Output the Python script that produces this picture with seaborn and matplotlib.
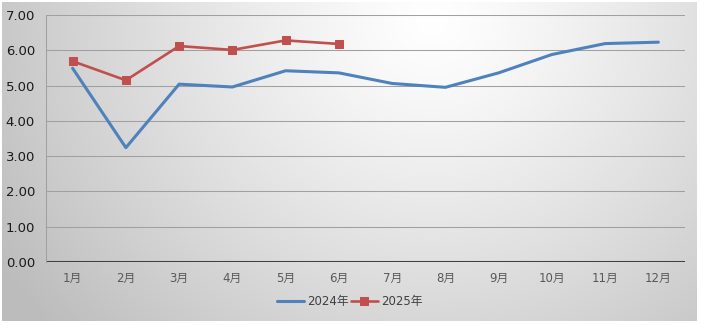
import numpy as np
import pandas as pd
import matplotlib
matplotlib.use("Agg")
import matplotlib.pyplot as plt
import seaborn as sns

months = ["1月", "2月", "3月", "4月", "5月", "6月", "7月", "8月", "9月", "10月", "11月", "12月"]
values_2024 = [5.49, 3.24, 5.04, 4.96, 5.42, 5.36, 5.06, 4.95, 5.36, 5.88, 6.19, 6.23]
values_2025 = [5.69, 5.15, 6.12, 6.01, 6.28, 6.18]
yticks = [0, 1, 2, 3, 4, 5, 6, 7]

sns.set_theme(style="white")
plt.rcParams["font.family"] = ["DejaVu Sans", "Noto Sans CJK SC"]

W, H = 701, 325
fig = plt.figure(figsize=(W / 100, H / 100), dpi=100)
fig.patch.set_facecolor("white")

# radial grey-to-white background of the chart area
bg = fig.add_axes([2 / W, 1 - 321 / H, 695 / W, 319 / H])
bg.set_axis_off()
yy, xx = np.mgrid[0:319, 0:695]
d = np.sqrt(((xx - 430) / 440.0) ** 2 + ((yy - 20) / 400.0) ** 2)
shade = 1.0 - 0.22 * np.clip(d, 0, 1.15) ** 1.2
bg.imshow(np.dstack([shade] * 3), aspect="auto", interpolation="bilinear", vmin=0, vmax=1)

ax = fig.add_axes([46 / W, 1 - 262 / H, 639 / W, 247 / H])
ax.patch.set_alpha(0)

df24 = pd.DataFrame({"x": np.arange(len(values_2024)), "y": values_2024})
df25 = pd.DataFrame({"x": np.arange(len(values_2025)), "y": values_2025})
sns.lineplot(data=df24, x="x", y="y", ax=ax, color="#4f81bd", linewidth=2.2,
             label="2024年", zorder=3)
sns.lineplot(data=df25, x="x", y="y", ax=ax, color="#c0504d", linewidth=1.9,
             marker="s", markersize=5.5, markeredgecolor="#c0504d",
             label="2025年", zorder=4)

ax.set_xlim(-0.5, 11.5)
ax.set_ylim(0, 7)
ax.set_yticks(yticks)
ax.set_yticklabels([f"{v:.2f}" for v in yticks], fontsize=9.5, color="#1a1a1a")
ax.set_xticks(range(len(months)))
ax.set_xticklabels(months, fontsize=8.5, color="#595959")
ax.tick_params(axis="both", length=0)
ax.tick_params(axis="y", pad=8)
ax.tick_params(axis="x", pad=7)
ax.set_xlabel("")
ax.set_ylabel("")

for v in yticks[1:]:
    ax.axhline(v, color="#a0a0a0", linewidth=0.75, zorder=1)
ax.axhline(0, color="#404040", linewidth=2.2, zorder=2)

for s in ["top", "right", "bottom"]:
    ax.spines[s].set_visible(False)
ax.spines["left"].set_color("#a0a0a0")
ax.spines["left"].set_linewidth(0.75)

# legend centred under the chart area
leg = fig.legend(*ax.get_legend_handles_labels(), loc="center",
                 bbox_to_anchor=(349.5 / W, 1 - 302 / H), ncol=2,
                 frameon=False, fontsize=8.5, handlelength=2.3, handletextpad=0.25,
                 columnspacing=0.2, borderaxespad=0, borderpad=0)
ax.get_legend().remove()
for t in leg.get_texts():
    t.set_color("#404040")

fig.savefig("out.png", dpi=100)
